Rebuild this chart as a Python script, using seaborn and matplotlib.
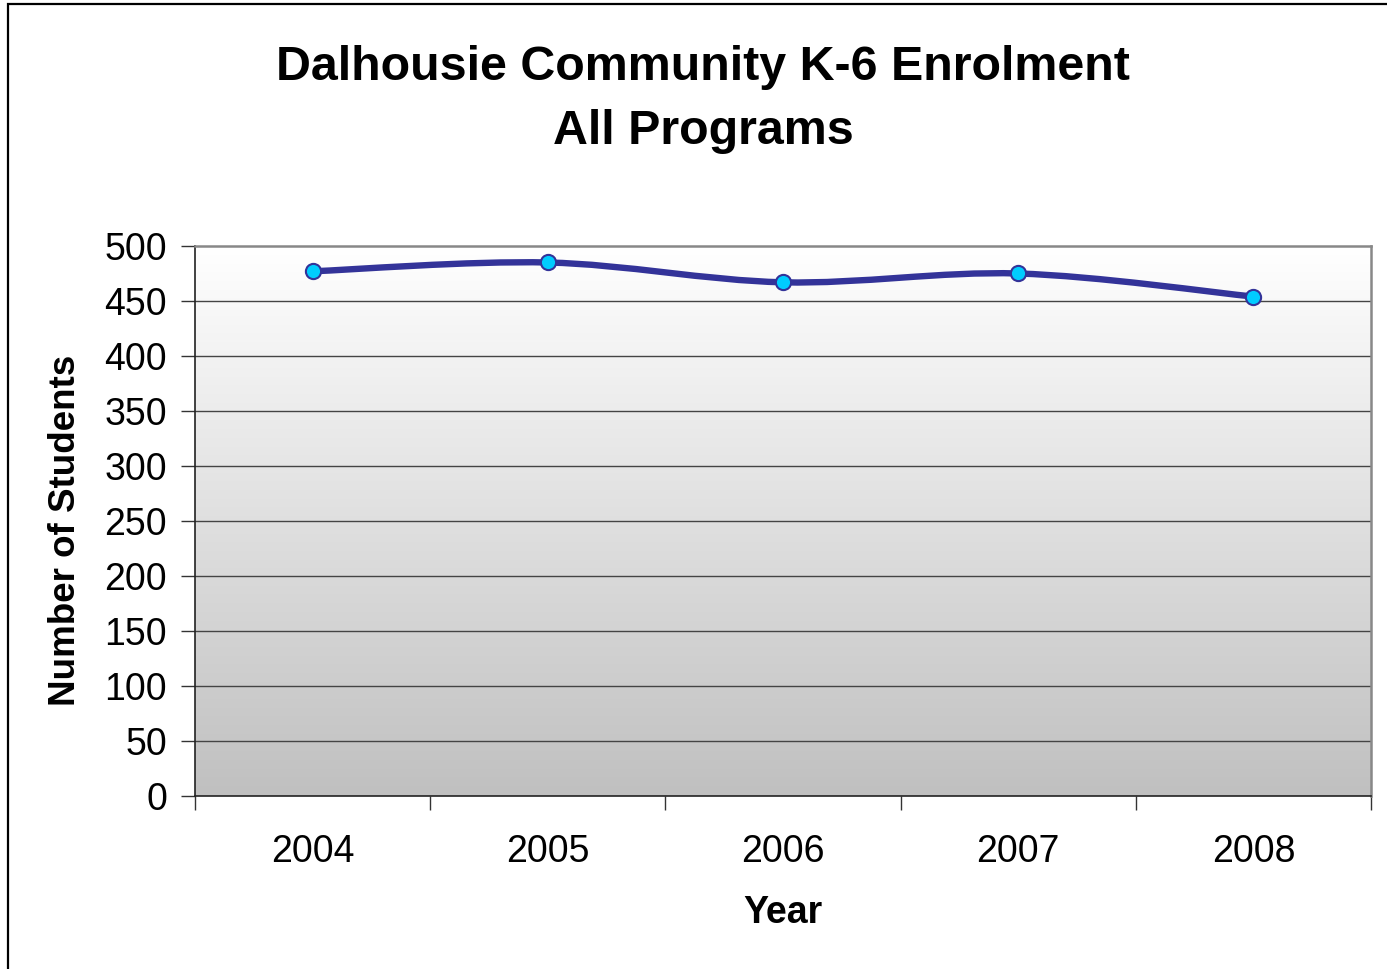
import numpy as np
import pandas as pd
import matplotlib
matplotlib.use("Agg")
import matplotlib.pyplot as plt
import seaborn as sns
from matplotlib.path import Path
from matplotlib.patches import PathPatch, Rectangle

# chart data
years = ["2004", "2005", "2006", "2007", "2008"]
students = [477, 485, 467, 475, 454]
y_ticks = [0, 50, 100, 150, 200, 250, 300, 350, 400, 450, 500]

title_lines = ["Dalhousie Community K-6 Enrolment", "All Programs"]
x_label = "Year"
y_label = "Number of Students"

LINE = "#333399"
MARKER = "#00CCFF"

sns.set_style("white")
plt.rcParams["font.family"] = ["Liberation Sans", "DejaVu Sans"]
plt.rcParams["text.color"] = "black"
plt.rcParams["xtick.color"] = "black"
plt.rcParams["ytick.color"] = "black"

W, H = 1387, 969
fig = plt.figure(figsize=(W / 100, H / 100), dpi=100)
ax = fig.add_axes([195 / W, (H - 796) / H, (1371 - 195) / W, (796 - 246) / H])

df = pd.DataFrame({"year": years, "students": students})
df["pos"] = range(len(years))

# plot-area gradient, white at top, grey at bottom
grad = np.linspace(1.0, 0.0, 256).reshape(-1, 1)
ax.imshow(grad, extent=[0, 1, 0, 1], transform=ax.transAxes, aspect="auto",
          cmap=matplotlib.colors.LinearSegmentedColormap.from_list(
              "g", ["#c0c0c0", "#ffffff"]), zorder=0)

# smoothed line (Bezier through data points, Excel style)
xs = df["pos"].to_numpy(dtype=float)
ys = df["students"].to_numpy(dtype=float)
pts = np.column_stack([xs, ys])
verts = [pts[0]]
codes = [Path.MOVETO]
n = len(pts)
for i in range(n - 1):
    p0 = pts[max(i - 1, 0)]
    p1 = pts[i]
    p2 = pts[i + 1]
    p3 = pts[min(i + 2, n - 1)]
    verts += [p1 + (p2 - p0) / 6, p2 - (p3 - p1) / 6, p2]
    codes += [Path.CURVE4] * 3
ax.add_patch(PathPatch(Path(verts, codes), facecolor="none", edgecolor=LINE,
                       lw=4.6, capstyle="round", joinstyle="round", zorder=3))

sns.scatterplot(data=df, x="pos", y="students", ax=ax, s=120, color=MARKER,
                edgecolor=LINE, linewidth=1.5, zorder=4, legend=False)

ax.set_xlim(-0.5, len(years) - 0.5)
ax.set_ylim(0, 500)
ax.set_yticks(y_ticks)
ax.set_yticklabels([str(v) for v in y_ticks], fontsize=27)
ax.set_xticks([p - 0.5 for p in range(len(years) + 1)])
ax.set_xticklabels([])
ax.set_xticks(df["pos"], minor=True)
ax.set_xticklabels(years, minor=True, fontsize=27)
ax.tick_params(axis="x", which="minor", length=0, pad=27)
ax.tick_params(axis="x", which="major", direction="out", length=10,
               width=1, color="#333333", bottom=True)
ax.tick_params(axis="y", direction="out", length=10, width=1,
               color="#333333", left=True, pad=10)

ax.grid(False)
for v in y_ticks[1:-1]:
    ax.axhline(v, color="#444444", lw=1.0, zorder=1)

for side in ["top", "right"]:
    ax.spines[side].set_color("#888888")
    ax.spines[side].set_linewidth(1.8)
for side in ["left", "bottom"]:
    ax.spines[side].set_color("#222222")
    ax.spines[side].set_linewidth(1.2)

ax.set_xlabel("")
ax.set_ylabel("")
fig.text(783 / W, 1 - 913 / H, x_label, ha="center", va="center",
         fontsize=27, fontweight="bold")
fig.text(66 / W, 1 - 530 / H, y_label, ha="center", va="center",
         rotation=90, fontsize=26.5, fontweight="bold")
for line, ypix in zip(title_lines, [68, 131]):
    fig.text(703 / W, 1 - ypix / H, line, ha="center", va="center",
             fontsize=34.8, fontweight="bold")

# outer chart border (left and top edges visible)
fig.patches.append(Rectangle((8 / W, -0.1), 1.2, 1 - 4 / H + 0.1,
                             transform=fig.transFigure, fill=False,
                             edgecolor="black", lw=1.6))

fig.savefig("out.png", dpi=100)
